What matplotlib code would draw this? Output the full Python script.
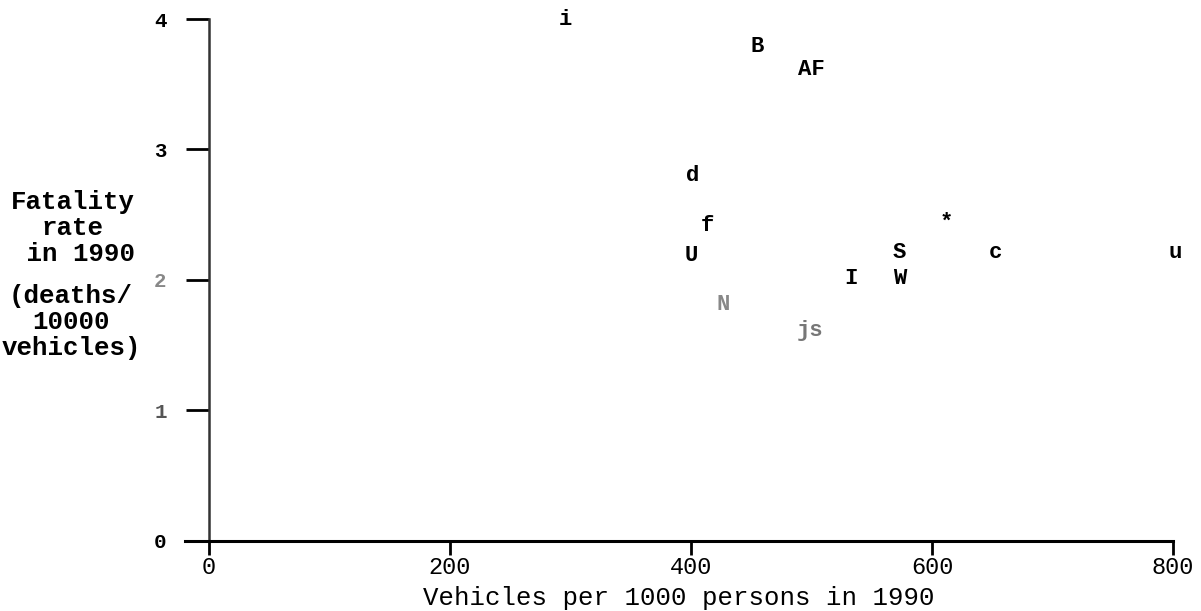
import matplotlib
matplotlib.use("Agg")
import matplotlib.pyplot as plt

# Data
labels = ["i", "B", "AF", "d", "f", "U", "N", "js", "I", "S", "W", "*", "c", "u"]
vehicles = [296, 455, 500, 401, 414, 400, 427, 499, 533, 573, 573, 612, 653, 802]
fatality = [4.00, 3.79, 3.61, 2.80, 2.42, 2.19, 1.81, 1.61, 2.01, 2.21, 2.01, 2.44, 2.21, 2.21]
label_colors = ["black"] * 6 + ["#888888", "#777777"] + ["black"] * 6

xticks = [0, 200, 400, 600, 800]
yticks = [0, 1, 2, 3, 4]
ytick_colors = ["black", "#555555", "#888888", "black", "black"]

font = "Liberation Mono"

fig = plt.figure(figsize=(12.01, 6.11), dpi=100)
ax = fig.add_axes([0.154, 0.1146, 0.8227, 0.8543])

for lab, x, y, c in zip(labels, vehicles, fatality, label_colors):
    ax.text(x, y, lab, ha="center", va="center", fontsize=16, fontweight="bold",
            family=font, color=c, clip_on=False)

ax.set_xlim(-20, 800)
ax.set_ylim(0, 4)

for s in ["top", "right"]:
    ax.spines[s].set_visible(False)
ax.spines["left"].set_position(("data", 0))
ax.spines["left"].set_linewidth(1.8)
ax.spines["left"].set_color("#333333")
ax.spines["bottom"].set_linewidth(2.2)

ax.set_xticks(xticks)
ax.set_xticklabels([str(v) for v in xticks], family=font, fontsize=17)
ax.set_yticks(yticks)
ax.set_yticklabels([str(v) for v in yticks], family=font, fontsize=15, fontweight="bold")
for lbl, c in zip(ax.get_yticklabels(), ytick_colors):
    lbl.set_color(c)

ax.tick_params(axis="x", direction="out", length=10, width=2, pad=1)
ax.tick_params(axis="y", direction="out", length=16.5, width=2, pad=14)

ax.set_xlabel("Vehicles per 1000 persons in 1990", family=font, fontsize=18.5, labelpad=5)

ylabel_top = ["Fatality", "rate", " in 1990"]
ylabel_bottom = ["(deaths/", "10000", "vehicles)"]
fig.text(73 / 1201, 1 - 228 / 611, "\n".join(ylabel_top), ha="center", va="center",
         family=font, fontsize=18.5, fontweight="bold", linespacing=1.1)
fig.text(71 / 1201, 1 - 322 / 611, "\n".join(ylabel_bottom), ha="center", va="center",
         family=font, fontsize=18.5, fontweight="bold", linespacing=1.1)

fig.savefig("out.png", dpi=100)
